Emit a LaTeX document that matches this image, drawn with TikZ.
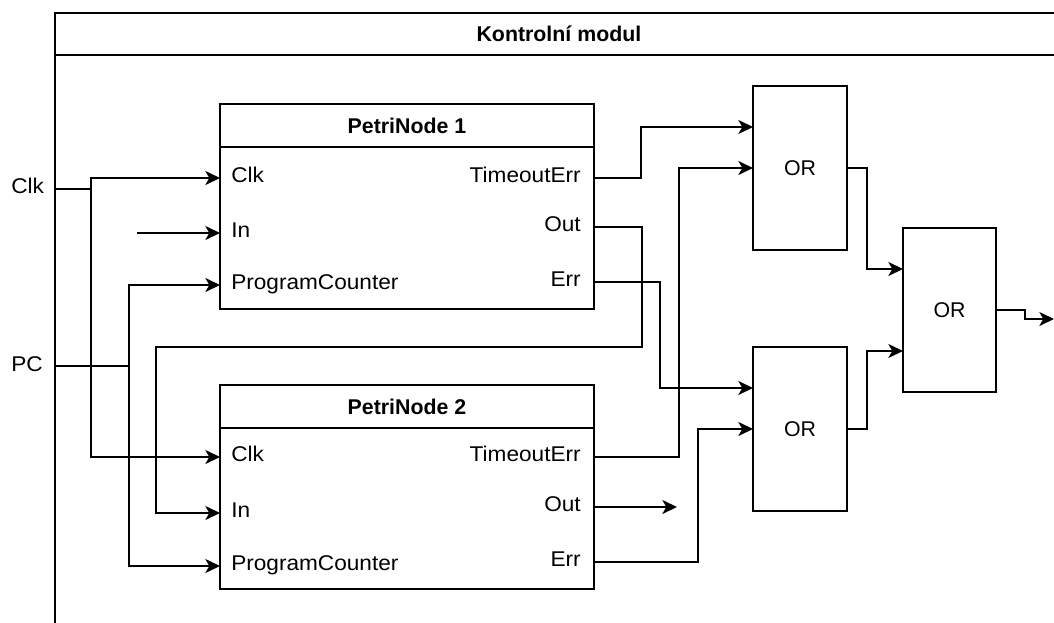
\documentclass[tikz,border=0pt]{standalone}
\usepackage{fontspec}
\setmainfont{Liberation Sans}
\newfontfamily\portfont[FakeStretch=1.06]{Liberation Sans}
\usetikzlibrary{arrows.meta}
\begin{document}
\begin{tikzpicture}[x=0.75pt,y=-0.75pt,
  wire/.style={line width=1.4pt},
  sig/.style={wire,-{Stealth[length=11pt,width=10.5pt,inset=3pt]}},
  blk/.style={draw,line width=1.4pt,fill=white,inner sep=0pt,
    font=\fontsize{16}{19}\selectfont},
  hdr/.style={blk,font=\fontsize{16}{19}\selectfont\bfseries},
  port/.style={inner sep=0pt,font=\fontsize{16}{19}\portfont,
    text height=0.716em,text depth=0pt},
]
\useasboundingbox (0,0) rectangle (1054,622);
\clip (0,0) rectangle (1054,622);

% module frame
\node[blk,anchor=north west,minimum width=1008*0.75pt,minimum height=620*0.75pt] (modb) at (54,54) {};
\node[hdr,anchor=north west,minimum width=1008*0.75pt,minimum height=42*0.75pt] (modh) at (54,12) {Kontrolní modul};

% external inputs
\node[port,anchor=west] (clklbl) at (11,189) {Clk};
\node[port,anchor=west] (pclbl) at (11,367) {PC};
\coordinate (clkin) at (54,189);
\coordinate (pcin) at (54,366);
\coordinate (clkj) at (91,189);
\coordinate (pcj) at (129,366);
\coordinate (in1src) at (137,233);

% PetriNode 1
\node[hdr,minimum width=374*0.75pt,minimum height=43*0.75pt] (pn1h) at (407,125.5) {PetriNode 1};
\node[blk,minimum width=374*0.75pt,minimum height=162*0.75pt] (pn1b) at (407,228) {};
\coordinate (pn1clk) at (220,178);
\coordinate (pn1in)  at (220,233);
\coordinate (pn1pc)  at (220,285);
\coordinate (pn1to)  at (594,178);
\coordinate (pn1out) at (594,227);
\coordinate (pn1err) at (594,282);
\node[port,anchor=west] (l1clk) at (231,178) {Clk};
\node[port,anchor=west] (l1in)  at (231,233) {In};
\node[port,anchor=west] (l1pc)  at (231,285) {ProgramCounter};
\node[port,anchor=east] (l1to)  at (581,178) {TimeoutErr};
\node[port,anchor=east] (l1out) at (581,227) {Out};
\node[port,anchor=east] (l1err) at (581,282) {Err};

% PetriNode 2
\node[hdr,minimum width=374*0.75pt,minimum height=43*0.75pt] (pn2h) at (407,406.5) {PetriNode 2};
\node[blk,minimum width=374*0.75pt,minimum height=161*0.75pt] (pn2b) at (407,508.5) {};
\coordinate (pn2clk) at (220,457);
\coordinate (pn2in)  at (220,513);
\coordinate (pn2pc)  at (220,566);
\coordinate (pn2to)  at (594,457);
\coordinate (pn2out) at (594,507);
\coordinate (pn2err) at (594,562);
\node[port,anchor=west] (l2clk) at (231,457) {Clk};
\node[port,anchor=west] (l2in)  at (231,513) {In};
\node[port,anchor=west] (l2pc)  at (231,566) {ProgramCounter};
\node[port,anchor=east] (l2to)  at (581,457) {TimeoutErr};
\node[port,anchor=east] (l2out) at (581,507) {Out};
\node[port,anchor=east] (l2err) at (581,562) {Err};
\coordinate (out2end) at (677,507);

% OR gates
\node[blk,minimum width=94*0.75pt,minimum height=164*0.75pt] (or1) at (800,168) {OR};
\node[blk,minimum width=94*0.75pt,minimum height=164*0.75pt] (or2) at (800,429) {OR};
\node[blk,minimum width=93*0.75pt,minimum height=164*0.75pt] (or3) at (949.5,310) {OR};
\coordinate (or1a) at (753,127);
\coordinate (or1b) at (753,168);
\coordinate (or2a) at (753,388);
\coordinate (or2b) at (753,429);
\coordinate (or3a) at (903,269);
\coordinate (or3b) at (903,351);
\coordinate (sysout) at (1054,319);

% feedback route Out(1) -> In(2)
\coordinate (fbA) at (642,347);
\coordinate (fbB) at (156,513);

% clock and program counter distribution
\draw[wire] (clkin) -- (clkj);
\draw[sig] (clkj) |- (pn1clk);
\draw[sig] (clkj) |- (pn2clk);
\draw[sig] (in1src) -- (pn1in);
\draw[wire] (pcin) -- (pcj);
\draw[sig] (pcj) |- (pn1pc);
\draw[sig] (pcj) |- (pn2pc);
\draw[sig] (pn1out) -| (fbA) -| (fbB) -- (pn2in);

% error signals into the OR tree
\draw[sig] (pn1to) -- ++(47,0) |- (or1a);
\draw[sig] (pn2to) -- ++(85,0) |- (or1b);
\draw[sig] (pn1err) -- ++(66,0) |- (or2a);
\draw[sig] (pn2err) -- ++(104,0) |- (or2b);
\draw[sig] (pn2out) -- (out2end);
\draw[sig] (or1.east) -- ++(19,0) |- (or3a);
\draw[sig] (or2.east) -- ++(19,0) |- (or3b);
\draw[sig] (or3.east) -- ++(28,0) -- ++(0,9) -- (sysout);
\end{tikzpicture}
\end{document}
